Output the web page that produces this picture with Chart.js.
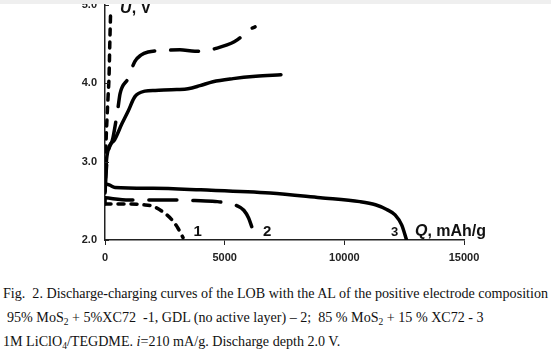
<!DOCTYPE html>
<html>
<head>
<meta charset="utf-8">
<script src="https://cdn.jsdelivr.net/npm/chart.js@4.4.0/dist/chart.umd.min.js"></script>
<style>
body{margin:0;background:#fff;width:551px;height:353px;overflow:hidden;position:relative}
#wrap{position:absolute;left:0;top:0;width:551px;height:270px}
#band{position:absolute;left:0;top:0;width:551px;height:4px;background:#efefef}
.cap{position:absolute;font-family:"Liberation Serif","Times New Roman",serif;font-size:14.1px;line-height:16px;color:#111;white-space:pre}
.cap sub{font-size:9.5px;vertical-align:-3px;line-height:0}
</style>
</head>
<body>
<div id="wrap"><canvas id="c" width="551" height="270"></canvas></div>
<div id="band"></div>
<div class="cap" style="top:285px;left:3px">Fig.  2. Discharge-charging curves of the LOB with the AL of the positive electrode composition</div>
<div class="cap" style="top:309px;left:7px">95% MoS<sub>2</sub> + 5%XC72  -1, GDL (no active layer) – 2;  85 % MoS<sub>2</sub> + 15 % XC72 - 3</div>
<div class="cap" style="top:333px;left:3px">1M LiClO<sub>4</sub>/TEGDME. <i>i</i>=210 mA/g. Discharge depth 2.0 V.</div>
<script>
// Q, mAh/g  and  U, V
const dis1Q = [0, 1000, 1600, 2000, 2370, 2790, 3050, 3260];
const dis1U = [2.46, 2.46, 2.45, 2.43, 2.37, 2.26, 2.15, 2.03];
const chg1Q = [0, 40, 84, 125, 170, 200, 230];
const chg1U = [2.46, 3.2, 3.55, 3.81, 4.1, 4.5, 4.86];

const dis2Q = [0, 1000, 2000, 3000, 4000, 4700, 5100, 5500, 5800, 6000, 6130];
const dis2U = [2.54, 2.51, 2.51, 2.51, 2.50, 2.49, 2.47, 2.44, 2.38, 2.28, 2.17];
const chg2Q = [0, 80, 330, 540, 630, 960, 1250, 1500, 1800, 2500, 3130, 3760, 4300, 4680, 5100, 5400, 5640, 5980, 6270];
const chg2U = [2.6, 3.0, 3.3, 3.68, 3.87, 4.06, 4.28, 4.36, 4.40, 4.42, 4.43, 4.41, 4.42, 4.45, 4.49, 4.53, 4.58, 4.68, 4.72];

const dis3Q = [0, 200, 420, 2000, 4000, 6900, 9000, 10650, 11300, 11770, 12120, 12400, 12600];
const dis3U = [2.72, 2.70, 2.67, 2.66, 2.64, 2.60, 2.54, 2.49, 2.45, 2.39, 2.32, 2.19, 2.0];
const chg3Q = [0, 80, 400, 700, 960, 1250, 1670, 2100, 3000, 3470, 3970, 4510, 5350, 6300, 7350];
const chg3U = [2.72, 3.07, 3.28, 3.48, 3.64, 3.83, 3.90, 3.91, 3.92, 3.93, 3.97, 4.02, 4.06, 4.09, 4.11];

const xTicks = [0, 5000, 10000, 15000];
const yTicks = [2.0, 3.0, 4.0, 5.0];

function pts(q, u) {
    return q.map((v, i) => ({x: v, y: u[i]}));
}

function line(q, u, dash) {
    return {
        data: pts(q, u),
        borderColor: '#000',
        borderWidth: 3.5,
        borderDash: dash,
        borderCapStyle: 'round',
        pointRadius: 0,
        fill: false,
        cubicInterpolationMode: 'monotone'
    };
}

const shortDash = [6, 7];
const longDash = [28, 16];

const labels = {
    id: 'labels',
    afterDraw(chart) {
        const ctx = chart.ctx;
        const xs = chart.scales.x, ys = chart.scales.y;
        ctx.save();
        // inward y ticks
        ctx.strokeStyle = '#222';
        ctx.lineWidth = 1;
        yTicks.forEach(v => {
            const y = Math.round(ys.getPixelForValue(v)) + 0.5;
            ctx.beginPath();
            ctx.moveTo(xs.left, y);
            ctx.lineTo(xs.left + 4, y);
            ctx.stroke();
        });
        ctx.fillStyle = '#111';
        ctx.textBaseline = 'middle';
        ctx.textAlign = 'left';
        const put = (q, u, parts) => {
            let x = xs.getPixelForValue(q);
            const y = ys.getPixelForValue(u);
            parts.forEach(p => {
                ctx.font = p[1];
                ctx.fillText(p[0], x, y);
                x += ctx.measureText(p[0]).width;
            });
        };
        const f = '"Liberation Sans", Arial, sans-serif';
        put(630, 4.95, [['U', 'italic bold 16px ' + f], [', V', 'bold 16px ' + f]]);
        put(12950, 2.11, [['Q', 'italic bold 16px ' + f], [', mAh/g', 'bold 16px ' + f]]);
        put(3700, 2.11, [['1', 'bold 15px ' + f]]);
        put(6600, 2.11, [['2', 'bold 15px ' + f]]);
        put(11950, 2.10, [['3', 'bold 13px ' + f]]);
        ctx.restore();
    }
};

new Chart(document.getElementById('c'), {
    type: 'line',
    data: {
        datasets: [
            line(dis1Q, dis1U, shortDash),
            line(chg1Q, chg1U, shortDash),
            line(dis2Q, dis2U, longDash),
            line(chg2Q, chg2U, longDash),
            line(dis3Q, dis3U, []),
            line(chg3Q, chg3U, [])
        ]
    },
    options: {
        responsive: false,
        animation: false,
        devicePixelRatio: 1,
        layout: {padding: {top: 5, right: 87, left: 0, bottom: 0}},
        plugins: {legend: {display: false}, tooltip: {enabled: false}},
        scales: {
            x: {
                type: 'linear',
                min: 0,
                max: 15000,
                afterBuildTicks: s => { s.ticks = xTicks.map(v => ({value: v})); },
                afterFit: s => { s.height = 30; s.paddingLeft = 0; s.paddingRight = 0; },
                ticks: {
                    color: '#222',
                    font: {family: '"Liberation Sans", Arial, sans-serif', size: 11, weight: 'bold'},
                    padding: 6,
                    maxRotation: 0,
                    callback: v => String(v)
                },
                grid: {drawOnChartArea: false, drawTicks: true, tickLength: 5, color: '#222'},
                border: {color: '#222', width: 1.5}
            },
            y: {
                type: 'linear',
                min: 2,
                max: 5,
                afterBuildTicks: s => { s.ticks = yTicks.map(v => ({value: v})); },
                afterFit: s => { s.width = 105; s.paddingTop = 0; s.paddingBottom = 0; },
                ticks: {
                    color: '#222',
                    font: {family: '"Liberation Sans", Arial, sans-serif', size: 11, weight: 'bold'},
                    padding: 8,
                    callback: v => v.toFixed(1)
                },
                grid: {drawOnChartArea: false, drawTicks: false},
                border: {color: '#222', width: 1.5}
            }
        }
    },
    plugins: [labels]
});
</script>
</body>
</html>
